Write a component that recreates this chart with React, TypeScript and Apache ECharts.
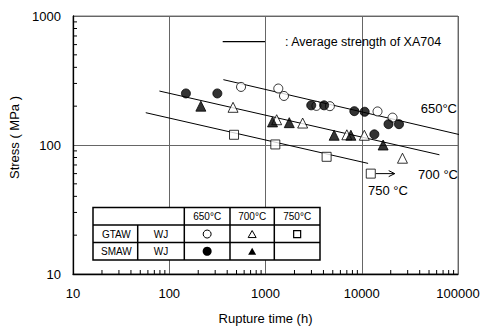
import React, { useEffect, useRef } from "react";
import * as echarts from "echarts";

const FONT = "'Liberation Sans', Arial, Helvetica, sans-serif";

// Rupture time (h), Stress (MPa)
const gtaw650 = [[557, 282], [1358, 274], [1556, 240], [3381, 201], [4667, 200], [14590, 182], [20890, 163]];
const smaw650 = [[149, 251], [316, 251], [2986, 203], [4064, 203], [8375, 183], [10720, 181], [13520, 121], [18970, 145], [24380, 145]];
const gtaw700 = [[460, 196], [1306, 157], [2432, 148], [6998, 120], [10640, 119], [26490, 79]];
const smaw700 = [[213, 200], [1183, 151], [1766, 149], [5166, 119], [7709, 119], [16670, 100]];
const gtaw750 = [[471, 120], [1265, 101], [4315, 81], [12410, 60]];
// running (unbroken) specimen: from time, to arrow tip time, stress
const runout750 = [[12410, 22000, 60]];

// Average strength of XA704
const avg650 = [[365, 321], [110700, 119]];
const avg700 = [[79, 262], [64100, 84]];
const avg750 = [[57, 178], [11640, 72]];

const xTickLabels = [10, 100, 1000, 10000, 100000];
const yTickLabels = [10, 100, 1000];
const minorSteps = [2, 3, 4, 5, 6, 7, 8, 9];
const xDecades = [10, 100, 1000, 10000];
const yDecades = [10, 100];
const xMinor = xDecades.flatMap((d) => minorSteps.map((m) => d * m));
const yMinor = yDecades.flatMap((d) => minorSteps.map((m) => d * m));

const tempLabels = ["650°C", "700 °C", "750 °C"];
const tableHeader = ["650°C", "700°C", "750°C"];
const tableRows = [["GTAW", "WJ"], ["SMAW", "WJ"]];

function lineSeries(name: string, data: number[][]) {
  return {
    type: "line",
    name,
    data,
    symbol: "none",
    clip: false,
    silent: true,
    z: 2,
    lineStyle: { color: "#000", width: 1 },
  };
}

function scatterSeries(name: string, data: number[][], symbol: string, filled: boolean, size: number) {
  return {
    type: "scatter",
    name,
    data,
    symbol,
    symbolSize: size,
    z: 5,
    itemStyle: { color: filled ? "#000" : "#fff", borderColor: "#000", borderWidth: 1 },
  };
}

function txt(text: string, x: number, y: number, size: number, align = "center") {
  return {
    type: "text",
    x,
    y,
    z: 30,
    style: {
      text,
      fill: "#000",
      font: `${size}px ${FONT}`,
      align,
      textAlign: align,
      verticalAlign: "middle",
      textVerticalAlign: "middle",
    },
  };
}

function buildTable() {
  const L = 93, R = 320, T = 207.5, H1 = 225, H2 = 242.5, B = 260;
  const c1 = 137.7, c2 = 184.3, c3 = 230, c4 = 274.3;
  const stroke = { stroke: "#000", lineWidth: 1.5 };
  const ln = (x1: number, y1: number, x2: number, y2: number) => ({
    type: "line", z: 31, shape: { x1, y1, x2, y2 }, style: stroke,
  });
  const colC = [(c2 + c3) / 2, (c3 + c4) / 2, (c4 + R) / 2];
  const rowC = [(H1 + H2) / 2 + 0.3, (H2 + B) / 2];
  const headC = (T + H1) / 2;
  const els: any[] = [
    { type: "rect", z: 29, shape: { x: L, y: T, width: R - L, height: B - T }, style: { fill: "#fff", stroke: "#000", lineWidth: 1.5 } },
    ln(L, H1, R, H1),
    ln(L, H2, R, H2),
    ln(c1, H1, c1, B),
    ln(c2, T, c2, B),
    ln(c3, T, c3, B),
    ln(c4, T, c4, B),
  ];
  tableHeader.forEach((h, i) => els.push(txt(h, colC[i], headC, 10)));
  tableRows.forEach((r, i) => {
    els.push(txt(r[0], (L + c1) / 2 + 1, rowC[i], 10));
    els.push(txt(r[1], (c1 + c2) / 2, rowC[i], 10));
  });
  // symbols
  const y1 = rowC[0], y2 = rowC[1];
  els.push({ type: "circle", z: 31, shape: { cx: colC[0], cy: y1, r: 4 }, style: { fill: "#fff", stroke: "#000", lineWidth: 1 } });
  els.push({ type: "circle", z: 31, shape: { cx: colC[0], cy: y2, r: 4.5 }, style: { fill: "#000" } });
  els.push({ type: "polygon", z: 31, shape: { points: [[colC[1] - 4, y1 + 3.5], [colC[1] + 4, y1 + 3.5], [colC[1], y1 - 3.5]] }, style: { fill: "#fff", stroke: "#000", lineWidth: 1 } });
  els.push({ type: "polygon", z: 31, shape: { points: [[colC[1] - 4, y2 + 3.5], [colC[1] + 4, y2 + 3.5], [colC[1], y2 - 3.5]] }, style: { fill: "#000" } });
  els.push({ type: "rect", z: 31, shape: { x: colC[2] - 3.5, y: y1 - 3.5, width: 7, height: 7 }, style: { fill: "#fff", stroke: "#000", lineWidth: 1.2 } });
  return els;
}

export default function App() {
  const ref = useRef<HTMLDivElement>(null);
  useEffect(() => {
    document.body.style.margin = "0";
    const chart = echarts.init(ref.current!, null, { renderer: "svg" });
    const labelFmt = (v: number) => String(Math.round(v));
    const option: any = {
      animation: false,
      backgroundColor: "#fff",
      grid: {
        left: 73,
        right: 28,
        top: 16,
        bottom: 53,
        show: true,
        borderColor: "#777",
        borderWidth: 1,
        backgroundColor: "transparent",
      },
      xAxis: {
        type: "log",
        logBase: 10,
        min: xTickLabels[0],
        max: xTickLabels[xTickLabels.length - 1],
        name: "Rupture time (h)",
        nameLocation: "middle",
        nameGap: 38,
        nameTextStyle: { color: "#000", fontSize: 13, fontFamily: FONT },
        axisLine: { lineStyle: { color: "#000", width: 1.3 } },
        axisTick: { show: false },
        splitLine: { show: true, lineStyle: { color: "#666", width: 1 } },
        axisLabel: { color: "#000", fontSize: 13, fontFamily: FONT, margin: 13, formatter: labelFmt },
      },
      yAxis: {
        type: "log",
        logBase: 10,
        min: yTickLabels[0],
        max: yTickLabels[yTickLabels.length - 1],
        name: "Stress ( MPa )",
        nameLocation: "middle",
        nameGap: 43,
        nameTextStyle: { color: "#000", fontSize: 13, fontFamily: FONT, padding: [0, 0, 0, 15] },
        axisLine: { lineStyle: { color: "#000", width: 1.3 } },
        axisTick: { show: false },
        splitLine: { show: true, lineStyle: { color: "#666", width: 1 } },
        axisLabel: { color: "#000", fontSize: 13, fontFamily: FONT, margin: 12, formatter: labelFmt },
      },
      series: [
        lineSeries("avg650", avg650),
        lineSeries("avg700", avg700),
        lineSeries("avg750", avg750),
        scatterSeries("GTAW 650", gtaw650, "circle", false, 9),
        scatterSeries("SMAW 650", smaw650, "circle", true, 9),
        scatterSeries("GTAW 700", gtaw700, "triangle", false, 10),
        scatterSeries("SMAW 700", smaw700, "triangle", true, 10),
        scatterSeries("GTAW 750", gtaw750, "rect", false, 9),
        {
          type: "custom",
          name: "runout",
          data: runout750,
          encode: { x: [0, 1], y: 2 },
          z: 4,
          silent: true,
          renderItem: (_p: any, api: any) => {
            const s = api.coord([api.value(0), api.value(2)]);
            const e = api.coord([api.value(1), api.value(2)]);
            return {
              type: "group",
              children: [
                { type: "line", shape: { x1: s[0] + 5, y1: s[1], x2: e[0], y2: e[1] }, style: { stroke: "#000", lineWidth: 1 } },
                { type: "polyline", shape: { points: [[e[0] - 6, e[1] - 3], [e[0], e[1]], [e[0] - 6, e[1] + 3]] }, style: { stroke: "#000", lineWidth: 1, fill: "none" } },
              ],
            };
          },
        },
        {
          type: "custom",
          name: "xMinorTicks",
          data: xMinor.map((v) => [v, yTickLabels[0]]),
          z: 6,
          silent: true,
          renderItem: (_p: any, api: any) => {
            const p = api.coord([api.value(0), api.value(1)]);
            return { type: "line", shape: { x1: p[0], y1: p[1], x2: p[0], y2: p[1] - 4 }, style: { stroke: "#000", lineWidth: 1 } };
          },
        },
        {
          type: "custom",
          name: "yMinorTicks",
          data: yMinor.map((v) => [xTickLabels[0], v]),
          z: 6,
          silent: true,
          renderItem: (_p: any, api: any) => {
            const p = api.coord([api.value(0), api.value(1)]);
            return { type: "line", shape: { x1: p[0], y1: p[1], x2: p[0] + 4, y2: p[1] }, style: { stroke: "#000", lineWidth: 1 } };
          },
        },
      ],
      graphic: [
        { type: "line", z: 30, shape: { x1: 222.7, y1: 41.7, x2: 265, y2: 41.7 }, style: { stroke: "#000", lineWidth: 1.3 } },
        txt(": Average strength of XA704", 285, 41.7, 12.5, "left"),
        txt(tempLabels[0], 457, 108.5, 13, "right"),
        txt(tempLabels[1], 458, 174.3, 13, "right"),
        txt(tempLabels[2], 368, 190, 13, "left"),
        ...buildTable(),
      ],
    };
    chart.setOption(option);
    return () => chart.dispose();
  }, []);
  return <div ref={ref} style={{ width: 486, height: 330 }} />;
}
